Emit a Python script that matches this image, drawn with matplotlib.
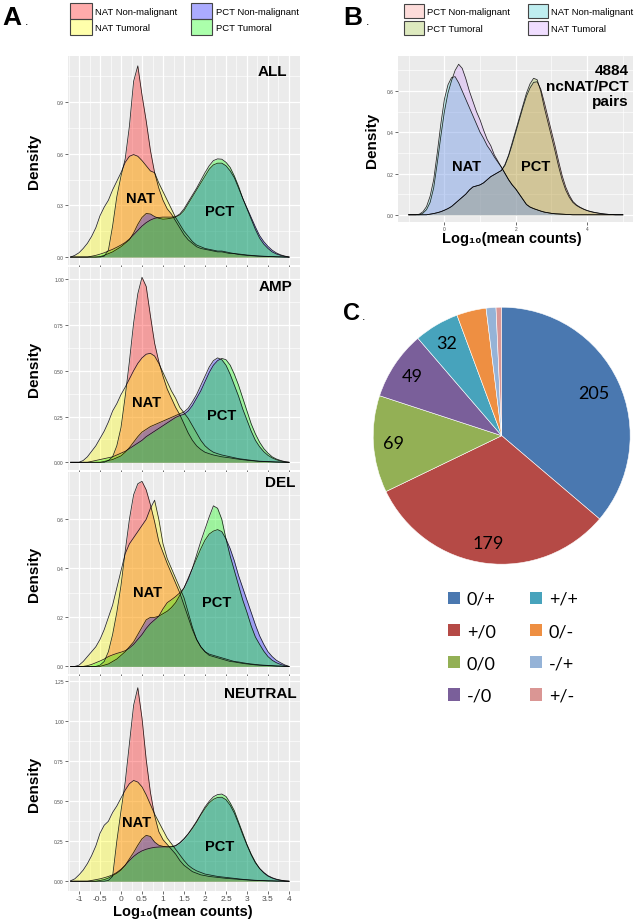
import numpy as np
import matplotlib
matplotlib.use("Agg")
import matplotlib.pyplot as plt
from matplotlib.patches import Patch
from matplotlib.colors import to_rgba

plt.rcParams['font.family'] = ['Liberation Sans', 'DejaVu Sans']

W, H = 642, 920

# ---------------- data: panel A (x = -1.2 .. 4.0, step 0.1) ----------------
X_A = np.round(np.linspace(-1.2, 4.0, 53), 2)

ALL_NAT_NM = [0, 0, 0, 0, 0, 0, 0, 0, 0.005, 0.04,
              0.18, 0.35, 0.47, 0.57, 0.76, 1.02, 1.11, 0.94, 0.79, 0.62,
              0.49, 0.40, 0.33, 0.28, 0.25, 0.21, 0.17, 0.13, 0.10, 0.08,
              0.06, 0.05, 0.045, 0.04, 0.035, 0.03, 0.03, 0.025, 0.02, 0.02,
              0.015, 0.012, 0.01, 0.008, 0.006, 0.005, 0.004, 0.003, 0.002, 0.001,
              0.001, 0, 0]
ALL_NAT_T = [0, 0.01, 0.025, 0.05, 0.08, 0.12, 0.17, 0.24, 0.29, 0.33,
             0.39, 0.44, 0.49, 0.55, 0.585, 0.595, 0.585, 0.56, 0.53, 0.50,
             0.49, 0.43, 0.38, 0.33, 0.28, 0.23, 0.19, 0.15, 0.12, 0.09,
             0.07, 0.06, 0.05, 0.045, 0.04, 0.035, 0.035, 0.03, 0.025, 0.02,
             0.018, 0.015, 0.012, 0.01, 0.008, 0.006, 0.005, 0.004, 0.003, 0.002,
             0.001, 0, 0]
ALL_PCT_NM = [0, 0, 0, 0, 0, 0, 0, 0.003, 0.01, 0.02,
              0.03, 0.045, 0.06, 0.08, 0.10, 0.14, 0.19, 0.23, 0.253, 0.25,
              0.235, 0.225, 0.22, 0.222, 0.226, 0.232, 0.245, 0.27, 0.31, 0.35,
              0.39, 0.43, 0.47, 0.51, 0.535, 0.545, 0.545, 0.53, 0.50, 0.46,
              0.40, 0.34, 0.285, 0.23, 0.175, 0.125, 0.09, 0.062, 0.04, 0.024,
              0.013, 0.006, 0]
ALL_PCT_T = [0, 0, 0, 0, 0, 0.005, 0.01, 0.017, 0.025, 0.035,
             0.045, 0.057, 0.07, 0.085, 0.105, 0.13, 0.155, 0.18, 0.20, 0.215,
             0.225, 0.23, 0.232, 0.232, 0.232, 0.235, 0.25, 0.28, 0.32, 0.36,
             0.40, 0.445, 0.49, 0.53, 0.56, 0.57, 0.568, 0.55, 0.52, 0.47,
             0.41, 0.34, 0.28, 0.22, 0.16, 0.11, 0.075, 0.05, 0.03, 0.018,
             0.01, 0.004, 0]

AMP_NAT_NM = [0, 0, 0, 0, 0, 0, 0, 0, 0, 0.01,
              0.03, 0.09, 0.19, 0.36, 0.55, 0.76, 0.92, 1.01, 0.96, 0.80,
              0.65, 0.55, 0.47, 0.40, 0.35, 0.30, 0.26, 0.21, 0.16, 0.12,
              0.09, 0.07, 0.055, 0.047, 0.04, 0.035, 0.03, 0.027, 0.024, 0.02,
              0.017, 0.014, 0.011, 0.009, 0.007, 0.005, 0.004, 0.003, 0.002, 0.001,
              0.001, 0, 0]
AMP_NAT_T = [0, 0, 0, 0.01, 0.03, 0.06, 0.09, 0.13, 0.17, 0.22,
             0.28, 0.32, 0.37, 0.41, 0.455, 0.50, 0.54, 0.57, 0.59, 0.595,
             0.58, 0.54, 0.49, 0.44, 0.39, 0.35, 0.30, 0.27, 0.24, 0.20,
             0.16, 0.12, 0.09, 0.07, 0.055, 0.047, 0.04, 0.035, 0.03, 0.025,
             0.02, 0.017, 0.014, 0.011, 0.008, 0.006, 0.005, 0.004, 0.003, 0.002,
             0.001, 0, 0]
AMP_PCT_NM = [0, 0, 0, 0, 0, 0, 0, 0, 0.005, 0.01,
              0.015, 0.025, 0.035, 0.055, 0.08, 0.11, 0.14, 0.165, 0.18, 0.195,
              0.205, 0.215, 0.225, 0.235, 0.245, 0.255, 0.265, 0.275, 0.295, 0.33,
              0.37, 0.42, 0.47, 0.52, 0.555, 0.57, 0.56, 0.53, 0.48, 0.42,
              0.36, 0.29, 0.23, 0.17, 0.12, 0.085, 0.058, 0.038, 0.024, 0.014,
              0.007, 0.003, 0]
AMP_PCT_T = [0, 0, 0, 0, 0, 0.005, 0.01, 0.015, 0.02, 0.025,
             0.03, 0.04, 0.05, 0.06, 0.075, 0.09, 0.105, 0.12, 0.14, 0.155,
             0.17, 0.185, 0.20, 0.215, 0.23, 0.245, 0.255, 0.262, 0.28, 0.31,
             0.35, 0.39, 0.44, 0.49, 0.53, 0.555, 0.567, 0.56, 0.53, 0.48,
             0.42, 0.35, 0.28, 0.21, 0.155, 0.11, 0.075, 0.05, 0.03, 0.018,
             0.01, 0.004, 0]

DEL_NAT_NM = [0, 0, 0, 0, 0, 0, 0, 0.005, 0.02, 0.06,
              0.13, 0.22, 0.33, 0.47, 0.60, 0.70, 0.745, 0.755, 0.72, 0.66,
              0.59, 0.51, 0.465, 0.42, 0.38, 0.34, 0.30, 0.25, 0.20, 0.15,
              0.11, 0.08, 0.06, 0.045, 0.04, 0.035, 0.03, 0.025, 0.02, 0.018,
              0.015, 0.012, 0.01, 0.008, 0.006, 0.005, 0.004, 0.003, 0.002, 0.001,
              0.001, 0, 0]
DEL_NAT_T = [0, 0, 0.005, 0.02, 0.04, 0.06, 0.08, 0.11, 0.15, 0.20,
             0.25, 0.32, 0.39, 0.46, 0.50, 0.525, 0.55, 0.575, 0.60, 0.645,
             0.678, 0.60, 0.50, 0.44, 0.40, 0.36, 0.32, 0.28, 0.22, 0.16,
             0.11, 0.08, 0.06, 0.05, 0.045, 0.04, 0.035, 0.03, 0.025, 0.02,
             0.018, 0.015, 0.012, 0.01, 0.008, 0.006, 0.005, 0.004, 0.003, 0.002,
             0.001, 0, 0]
DEL_PCT_NM = [0, 0, 0, 0, 0, 0, 0, 0, 0.005, 0.01,
              0.02, 0.03, 0.045, 0.06, 0.08, 0.10, 0.13, 0.16, 0.19, 0.20,
              0.20, 0.205, 0.215, 0.225, 0.24, 0.26, 0.29, 0.32, 0.36, 0.40,
              0.44, 0.48, 0.515, 0.54, 0.552, 0.558, 0.55, 0.52, 0.48, 0.43,
              0.37, 0.32, 0.27, 0.22, 0.17, 0.125, 0.09, 0.06, 0.04, 0.025,
              0.015, 0.006, 0]
DEL_PCT_T = [0, 0, 0, 0, 0.003, 0.008, 0.015, 0.022, 0.03, 0.04,
             0.047, 0.053, 0.058, 0.064, 0.075, 0.09, 0.11, 0.13, 0.155, 0.175,
             0.19, 0.205, 0.235, 0.26, 0.272, 0.285, 0.30, 0.32, 0.355, 0.40,
             0.455, 0.51, 0.56, 0.61, 0.655, 0.645, 0.60, 0.52, 0.45, 0.39,
             0.33, 0.27, 0.22, 0.165, 0.12, 0.09, 0.062, 0.04, 0.025, 0.015,
             0.008, 0.003, 0]

NEU_NAT_NM = [0, 0, 0, 0, 0, 0, 0, 0, 0, 0.005,
              0.03, 0.25, 0.44, 0.62, 0.86, 1.10, 1.21, 1.02, 0.76, 0.556,
              0.41, 0.31, 0.26, 0.23, 0.20, 0.17, 0.13, 0.10, 0.08, 0.06,
              0.05, 0.04, 0.035, 0.03, 0.027, 0.024, 0.021, 0.018, 0.016, 0.014,
              0.012, 0.01, 0.008, 0.006, 0.005, 0.004, 0.003, 0.002, 0.002, 0.001,
              0.001, 0, 0]
NEU_NAT_T = [0.003, 0.015, 0.04, 0.07, 0.11, 0.16, 0.22, 0.30, 0.35, 0.375,
             0.43, 0.47, 0.52, 0.57, 0.61, 0.63, 0.62, 0.59, 0.54, 0.48,
             0.42, 0.37, 0.32, 0.27, 0.235, 0.20, 0.165, 0.13, 0.10, 0.08,
             0.065, 0.055, 0.045, 0.04, 0.035, 0.03, 0.027, 0.024, 0.021, 0.018,
             0.015, 0.012, 0.01, 0.008, 0.006, 0.005, 0.004, 0.003, 0.002, 0.001,
             0.001, 0, 0]
NEU_PCT_NM = [0, 0, 0, 0, 0, 0, 0, 0.005, 0.01, 0.02,
              0.035, 0.05, 0.07, 0.10, 0.14, 0.18, 0.225, 0.265, 0.287, 0.28,
              0.245, 0.225, 0.218, 0.215, 0.215, 0.222, 0.24, 0.265, 0.295, 0.33,
              0.37, 0.415, 0.455, 0.49, 0.512, 0.524, 0.525, 0.51, 0.475, 0.425,
              0.36, 0.29, 0.225, 0.165, 0.115, 0.08, 0.055, 0.035, 0.022, 0.013,
              0.007, 0.003, 0]
NEU_PCT_T = [0, 0, 0, 0, 0, 0.005, 0.01, 0.015, 0.022, 0.03,
             0.04, 0.055, 0.075, 0.10, 0.13, 0.155, 0.175, 0.19, 0.20, 0.207,
             0.212, 0.214, 0.215, 0.215, 0.216, 0.222, 0.24, 0.265, 0.297, 0.335,
             0.375, 0.42, 0.465, 0.50, 0.528, 0.542, 0.545, 0.53, 0.49, 0.44,
             0.37, 0.30, 0.23, 0.17, 0.12, 0.08, 0.052, 0.032, 0.02, 0.011,
             0.006, 0.002, 0]

A_NAMES = ['NAT Non-malignant', 'NAT Tumoral', 'PCT Non-malignant', 'PCT Tumoral']
A_COLORS = ['#FF0000', '#FFFF00', '#0000FF', '#00FF00']

# ---------------- data: panel B (x = -1.0 .. 5.0, step 0.1) ----------------
X_B = np.round(np.linspace(-1.0, 5.0, 61), 2)

B_PCT_NM = [0, 0, 0, 0, 0, 0, 0.003, 0.006, 0.01, 0.015,
            0.022, 0.03, 0.04, 0.055, 0.07, 0.085, 0.10, 0.12, 0.135, 0.14,
            0.145, 0.155, 0.17, 0.185, 0.195, 0.205, 0.215, 0.24, 0.285, 0.34,
            0.40, 0.46, 0.52, 0.575, 0.615, 0.642, 0.645, 0.61, 0.545, 0.475,
            0.405, 0.335, 0.26, 0.19, 0.135, 0.095, 0.065, 0.048, 0.037, 0.028,
            0.021, 0.016, 0.012, 0.009, 0.006, 0.004, 0.002, 0.001, 0, 0,
            0]
B_PCT_T = [0, 0, 0, 0, 0, 0, 0.003, 0.006, 0.01, 0.015,
           0.022, 0.03, 0.04, 0.055, 0.07, 0.085, 0.10, 0.12, 0.135, 0.14,
           0.145, 0.155, 0.17, 0.185, 0.195, 0.205, 0.215, 0.245, 0.29, 0.35,
           0.41, 0.47, 0.53, 0.59, 0.635, 0.662, 0.655, 0.60, 0.52, 0.45,
           0.38, 0.31, 0.235, 0.17, 0.12, 0.085, 0.06, 0.045, 0.035, 0.027,
           0.02, 0.015, 0.011, 0.008, 0.005, 0.003, 0.002, 0.001, 0, 0,
           0]
B_NAT_NM = [0, 0, 0, 0.003, 0.015, 0.04, 0.09, 0.17, 0.30, 0.44,
            0.56, 0.63, 0.665, 0.67, 0.64, 0.60, 0.56, 0.52, 0.48, 0.44,
            0.40, 0.37, 0.335, 0.31, 0.28, 0.255, 0.23, 0.20, 0.17, 0.145,
            0.125, 0.10, 0.075, 0.05, 0.037, 0.03, 0.024, 0.018, 0.013, 0.01,
            0.007, 0.005, 0.004, 0.003, 0.002, 0.001, 0, 0, 0, 0,
            0, 0, 0, 0, 0, 0, 0, 0, 0, 0,
            0]
B_NAT_T = [0, 0, 0, 0, 0.008, 0.025, 0.06, 0.13, 0.25, 0.38,
           0.50, 0.59, 0.65, 0.70, 0.73, 0.71, 0.66, 0.60, 0.55, 0.50,
           0.46, 0.41, 0.365, 0.335, 0.29, 0.26, 0.23, 0.20, 0.17, 0.145,
           0.125, 0.10, 0.075, 0.05, 0.038, 0.03, 0.024, 0.018, 0.013, 0.01,
           0.007, 0.005, 0.004, 0.003, 0.002, 0.001, 0, 0, 0, 0,
           0, 0, 0, 0, 0, 0, 0, 0, 0, 0,
           0]

B_NAMES = ['PCT Non-malignant', 'PCT Tumoral', 'NAT Non-malignant', 'NAT Tumoral']
B_COLORS = ['#F8766D', '#7CAE00', '#00BFC4', '#C77CFF']

# ---------------- data: panel C ----------------
PIE_LABELS = ['0/+', '+/0', '0/0', '-/0', '+/+', '0/-', '-/+', '+/-']
PIE_VALUES = [205, 179, 69, 49, 32, 21, 7, 4]
PIE_COLORS = ['#4A78B0', '#B54A46', '#93B055', '#7A5F9A',
              '#47A3BC', '#EE8F42', '#95B3D7', '#DA9694']

X_TICKS_A = [-1, -0.5, 0, 0.5, 1, 1.5, 2, 2.5, 3, 3.5, 4]
X_TICKLABELS_A = ['-1', '-0.5', '0', '0.5', '1', '1.5', '2', '2.5', '3', '3.5', '4']


def rect(left, top, right, bottom):
    # pixel box -> figure fraction
    return [left / W, 1 - bottom / H, (right - left) / W, (bottom - top) / H]


def gg_axes(ax):
    ax.set_facecolor('#EBEBEB')
    for s in ax.spines.values():
        s.set_visible(False)
    ax.grid(which='major', color='white', lw=0.9)
    ax.grid(which='minor', color='white', lw=0.45)
    ax.set_axisbelow(True)
    ax.tick_params(which='major', length=2, width=0.5, color='#333333',
                   labelsize=3.5, labelcolor='#4D4D4D', pad=1)
    ax.tick_params(which='minor', length=0)


def draw_density(ax, x, curves, colors, alpha):
    for y, c in zip(curves, colors):
        ax.fill_between(x, y, color=c, alpha=alpha, lw=0)
        ax.plot(x, y, color='black', lw=0.55, alpha=0.85)


fig = plt.figure(figsize=(W / 100, H / 100), dpi=100)

# ---------------- panel A ----------------
a_panels = [
    ('ALL', (57, 266), [ALL_NAT_NM, ALL_NAT_T, ALL_PCT_NM, ALL_PCT_T],
     (-0.046, 1.167), [0, 0.3, 0.6, 0.9], ['0.0', '0.3', '0.6', '0.9'],
     (0.476, 0.342), (2.36, 0.269), (0.945, 0.93)),
    ('AMP', (268, 471), [AMP_NAT_NM, AMP_NAT_T, AMP_PCT_NM, AMP_PCT_T],
     (-0.042, 1.066), [0, 0.25, 0.5, 0.75, 1.0], ['0.00', '0.25', '0.50', '0.75', '1.00'],
     (0.61, 0.327), (2.40, 0.26), (0.967, 0.908)),
    ('DEL', (473, 675), [DEL_NAT_NM, DEL_NAT_T, DEL_PCT_NM, DEL_PCT_T],
     (-0.031, 0.793), [0, 0.2, 0.4, 0.6], ['0.0', '0.2', '0.4', '0.6'],
     (0.636, 0.305), (2.28, 0.261), (0.978, 0.949)),
    ('NEUTRAL', (677, 892), [NEU_NAT_NM, NEU_NAT_T, NEU_PCT_NM, NEU_PCT_T],
     (-0.061, 1.283), [0, 0.25, 0.5, 0.75, 1.0, 1.25],
     ['0.00', '0.25', '0.50', '0.75', '1.00', '1.25'],
     (0.374, 0.3725), (2.36, 0.2225), (0.986, 0.92)),
]

for i, (name, (top, bot), curves, ylim, yt, ytl, nat_xy, pct_xy, name_xy) in enumerate(a_panels):
    ax = fig.add_axes(rect(68, top, 300, bot))
    gg_axes(ax)
    draw_density(ax, X_A, curves, A_COLORS, 0.33)
    ax.set_xlim(-1.262, 4.262)
    ax.set_xticks(X_TICKS_A)
    ax.set_xticks(np.arange(-1.25, 4.01, 0.5), minor=True)
    ax.set_yticks(yt, labels=ytl)
    ax.set_yticks([(a + b) / 2 for a, b in zip(yt[:-1], yt[1:])] + [yt[-1] + (yt[1] - yt[0]) / 2],
                  minor=True)
    ax.set_ylim(*ylim)
    if i == 3:
        ax.set_xticklabels(X_TICKLABELS_A)
        ax.tick_params(axis='x', labelsize=6, pad=1)
    else:
        ax.set_xticklabels([])
    ax.set_ylabel('Density', fontsize=11, fontweight='bold')
    ax.yaxis.set_label_coords(-0.115, 0.5)
    ax.text(*nat_xy, 'NAT', fontsize=10.5, fontweight='bold', ha='center', va='center')
    ax.text(*pct_xy, 'PCT', fontsize=10.5, fontweight='bold', ha='center', va='center')
    ax.text(*name_xy, name, transform=ax.transAxes, fontsize=11, fontweight='bold',
            ha='right', va='center')

fig.text(183 / W, 1 - 912 / H, 'Log₁₀(mean counts)', fontsize=10.5, fontweight='bold',
         ha='center', va='center')

fig.legend(handles=[Patch(facecolor=to_rgba(c, 0.33), edgecolor='#444444', lw=0.8)
                    for c in A_COLORS],
           labels=A_NAMES, ncol=2, loc='upper left',
           bbox_to_anchor=(70 / W, 1 - 4 / H), frameon=False, fontsize=6.8,
           borderpad=0, borderaxespad=0, handlelength=2.3, handleheight=2.2,
           labelspacing=0, handletextpad=0.35, columnspacing=1.4)

fig.text(2 / W, 1 - 25 / H, 'A', fontsize=19, fontweight='bold', va='baseline')
fig.text(25 / W, 1 - 25 / H, '.', fontsize=9, va='baseline')

# ---------------- panel B ----------------
axb = fig.add_axes(rect(398, 57, 633, 223))
gg_axes(axb)
draw_density(axb, X_B, [B_PCT_NM, B_PCT_T, B_NAT_NM, B_NAT_T], B_COLORS, 0.25)
axb.set_xlim(-1.3, 5.286)
axb.set_ylim(-0.035, 0.77)
axb.set_xticks([0, 2, 4], labels=['0', '2', '4'])
axb.set_xticks([-1, 1, 3, 5], minor=True)
axb.set_yticks([0, 0.2, 0.4, 0.6], labels=['0.0', '0.2', '0.4', '0.6'])
axb.set_yticks([0.1, 0.3, 0.5, 0.7], minor=True)
axb.set_ylabel('Density', fontsize=11, fontweight='bold')
axb.yaxis.set_label_coords(-0.081, 0.5)
axb.text(0.63, 0.238, 'NAT', fontsize=10.5, fontweight='bold', ha='center', va='center')
axb.text(2.56, 0.238, 'PCT', fontsize=10.5, fontweight='bold', ha='center', va='center')
axb.text(0.983, 0.958, '4884\nncNAT/PCT\npairs', transform=axb.transAxes, fontsize=11,
         fontweight='bold', ha='right', va='top', linespacing=1.15)
fig.text(512 / W, 1 - 239 / H, 'Log₁₀(mean counts)', fontsize=10.5, fontweight='bold',
         ha='center', va='center')

fig.legend(handles=[Patch(facecolor=to_rgba(c, 0.25), edgecolor='#444444', lw=0.8)
                    for c in B_COLORS],
           labels=B_NAMES, ncol=2, loc='upper left',
           bbox_to_anchor=(404 / W, 1 - 5 / H), frameon=False, fontsize=6.8,
           borderpad=0, borderaxespad=0, handlelength=2.1, handleheight=1.9,
           labelspacing=0.3, handletextpad=0.35, columnspacing=1.9)

fig.text(343 / W, 1 - 25 / H, 'B', fontsize=19, fontweight='bold', va='baseline')
fig.text(366 / W, 1 - 25 / H, '.', fontsize=9, va='baseline')

# ---------------- panel C ----------------
cx, cy, r = 501.7, 436.7, 128.5
axc = fig.add_axes(rect(cx - r, cy - r, cx + r, cy + r))
wedges, _ = axc.pie(PIE_VALUES, colors=PIE_COLORS, startangle=90, counterclock=False,
                    radius=1, wedgeprops=dict(edgecolor='white', linewidth=0.4))
axc.set_xlim(-1, 1)
axc.set_ylim(-1, 1)
for w, v in zip(wedges, PIE_VALUES):
    if v < 30:
        continue
    mid = np.deg2rad((w.theta1 + w.theta2) / 2)
    rr = 0.79 if v > 200 else 0.84
    axc.text(rr * np.cos(mid), rr * np.sin(mid), str(v), fontsize=13,
             family=['Lato', 'DejaVu Sans'], ha='center', va='center')

fig.legend(handles=[Patch(facecolor=c) for c in PIE_COLORS], labels=PIE_LABELS,
           ncol=2, loc='upper left', bbox_to_anchor=(448 / W, 1 - 592 / H),
           frameon=False, prop={'family': ['Lato', 'DejaVu Sans'], 'size': 13},
           borderpad=0, borderaxespad=0, handlelength=0.67, handleheight=0.67,
           labelspacing=0.9, handletextpad=0.37, columnspacing=1.9)

fig.text(343 / W, 1 - 320 / H, 'C', fontsize=17, fontweight='bold', va='baseline')
fig.text(362 / W, 1 - 320 / H, '.', fontsize=9, va='baseline')

fig.savefig('out.png', dpi=100)
